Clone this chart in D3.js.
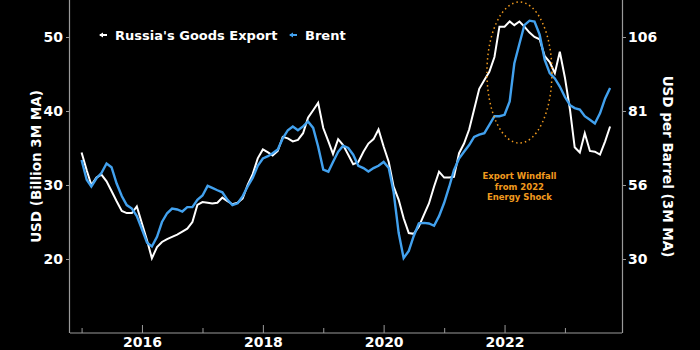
<!DOCTYPE html>
<html>
<head>
<meta charset="utf-8">
<script src="https://cdn.jsdelivr.net/npm/d3@7"></script>
<style>
  html, body { margin: 0; padding: 0; background: #000; }
  svg { display: block; }
</style>
</head>
<body>
<div id="chart"></div>
<script>
// ---- data (monthly, Jan 2015 .. Oct 2023, 3M moving averages) ----
const startYear = 2015;
const russiaExport = [ // USD billion
  34.4, 32.0, 30.0, 31.0, 31.4, 30.5, 29.2, 27.8, 26.5, 26.2, 26.2, 27.1,
  24.8, 22.5, 20.1, 21.6, 22.3, 22.7, 23.0, 23.3, 23.7, 24.1, 25.0, 27.3,
  27.7, 27.6, 27.5, 27.6, 28.3, 27.8, 27.4, 27.6, 28.2, 30.0, 31.5, 33.6,
  34.8, 34.4, 34.0, 34.6, 36.5, 36.3, 35.9, 36.1, 37.0, 39.1, 40.1, 41.1,
  37.7, 35.9, 34.2, 36.2, 35.4, 34.1, 32.8, 33.1, 34.5, 35.6, 36.2, 37.5,
  35.2, 33.1, 29.8, 28.0, 25.5, 23.5, 23.4, 24.4, 26.0, 27.5, 29.8, 31.8,
  31.0, 31.0, 31.1, 34.3, 35.6, 37.5, 40.2, 43.0, 44.2, 45.3, 47.3, 51.4,
  51.4, 52.1, 51.6, 52.1, 51.4, 50.6, 50.0, 49.7, 47.4, 46.6, 45.1, 48.0,
  44.5, 40.1, 35.1, 34.4, 37.0, 34.6, 34.5, 34.1, 35.9, 37.9
];
const brent = [ // USD per barrel
  64.2, 57.4, 55.1, 57.9, 59.7, 63.0, 61.7, 56.1, 51.8, 48.7, 47.5, 44.9,
  40.4, 35.8, 34.5, 37.8, 42.9, 45.9, 47.5, 47.2, 46.5, 48.0, 48.0, 50.5,
  52.0, 55.3, 54.6, 53.8, 53.1, 50.5, 48.7, 49.3, 51.8, 55.1, 58.1, 62.2,
  64.7, 65.5, 66.5, 67.8, 71.6, 74.4, 75.7, 74.4, 75.7, 77.4, 75.2, 68.8,
  60.9, 60.2, 63.5, 67.0, 69.1, 68.3, 66.0, 62.2, 61.4, 60.2, 61.4, 62.2,
  63.5, 61.4, 53.3, 39.1, 30.5, 33.0, 38.1, 42.4, 42.6, 42.4, 41.6, 44.9,
  49.5, 55.1, 60.7, 64.7, 67.0, 69.3, 72.1, 72.9, 73.4, 76.2, 79.2, 79.2,
  79.7, 84.3, 97.3, 104.1, 110.5, 112.0, 111.7, 107.2, 98.5, 94.0, 92.2, 89.4,
  85.8, 83.0, 82.0, 81.5, 79.2, 78.0, 76.7, 80.2, 85.3, 88.9
];
const leftTicks = [20, 30, 40, 50];
const rightTicks = [30.2, 55.6, 81.0, 106.4];   // shown rounded: 30, 56, 81, 106
const yearTicks = [2015, 2016, 2017, 2018, 2019, 2020, 2021, 2022, 2023];
const labeledYears = [2016, 2018, 2020, 2022];
const seriesNames = ["Russia's Goods Export", "Brent"];
const leftTitle = "USD (Billion 3M MA)";
const rightTitle = "USD per Barrel (3M MA)";
const annotationLines = ["Export Windfall", "from 2022", "Energy Shock"];

// ---- layout ----
const W = 700, H = 350;
const m = { left: 70, right: 78, top: 0, bottom: 17 };
const innerR = W - m.right, innerB = H - m.bottom;
const font = "'DejaVu Sans', Verdana, sans-serif";
const white = "#ffffff", blue = "#42a1ee", orange = "#f09a1e", axisCol = "#9a9a9a";

const svg = d3.select("#chart").append("svg").attr("width", W).attr("height", H)
  .style("background", "#000");

const x = d3.scaleTime()
  .domain([new Date(2014, 9, 23), new Date(2023, 11, 12)])
  .range([m.left, innerR]);
const yL = d3.scaleLinear().domain([10, 55]).range([innerB, m.top]);
const yR = d3.scaleLinear().domain([2.54 * 10 - 20.6, 2.54 * 55 - 20.6]).range([innerB, m.top]);

const dates = russiaExport.map((_, i) => new Date(startYear, i, 1));

// axes
const gL = svg.append("g").attr("transform", `translate(${m.left},0)`)
  .call(d3.axisLeft(yL).tickValues(leftTicks).tickSize(4).tickPadding(3).tickFormat(d3.format("d")));
const gR = svg.append("g").attr("transform", `translate(${innerR},0)`)
  .call(d3.axisRight(yR).tickValues(rightTicks).tickSize(4).tickPadding(2).tickFormat(d3.format(".0f")));
const gB = svg.append("g").attr("transform", `translate(0,${innerB})`)
  .call(d3.axisBottom(x).tickValues(yearTicks.map(y => new Date(y, 0, 1)))
    .tickSize(0).tickPadding(3)
    .tickFormat(d => labeledYears.includes(d.getFullYear()) ? d.getFullYear() : ""));

[gL, gR, gB].forEach(g => {
  g.select(".domain").attr("stroke", axisCol).attr("stroke-width", 1.2);
  g.selectAll(".tick line").attr("stroke", axisCol);
  g.selectAll("text").attr("fill", white).style("font-family", font)
    .style("font-weight", "bold").style("font-size", "14px");
});
gL.select(".domain").attr("d", `M-0.5,${innerB}V0`);
gR.select(".domain").attr("d", `M0.5,${innerB}V0`);
gB.select(".domain").attr("d", `M${m.left},0H${innerR}`);
gB.selectAll(".tick line")
  .attr("y2", d => labeledYears.includes(d.getFullYear()) ? -8 : -5);
gB.selectAll("text").attr("dy", "0.82em");

// titles
svg.append("text").attr("transform", `translate(41,${innerB / 2}) rotate(-90)`)
  .attr("text-anchor", "middle").attr("fill", white)
  .style("font-family", font).style("font-weight", "bold").style("font-size", "13.5px")
  .text(leftTitle);
svg.append("text").attr("transform", `translate(663,${innerB / 2}) rotate(90)`)
  .attr("text-anchor", "middle").attr("fill", white)
  .style("font-family", font).style("font-weight", "bold").style("font-size", "13.5px")
  .text(rightTitle);

// lines
const lineL = d3.line().x((d, i) => x(dates[i])).y(d => yL(d));
const lineR = d3.line().x((d, i) => x(dates[i])).y(d => yR(d));
svg.append("path").datum(russiaExport).attr("d", lineL)
  .attr("fill", "none").attr("stroke", white).attr("stroke-width", 2).attr("stroke-linejoin", "miter");
svg.append("path").datum(brent).attr("d", lineR)
  .attr("fill", "none").attr("stroke", blue).attr("stroke-width", 2.4).attr("stroke-linejoin", "miter");

// annotation ellipse + text
const ex = x(new Date(2022, 3, 1)), ey = yL(45.2);
svg.append("ellipse").attr("cx", ex).attr("cy", ey).attr("rx", 32.5).attr("ry", 70.5)
  .attr("fill", "none").attr("stroke", orange).attr("stroke-width", 1.5)
  .attr("stroke-dasharray", "1.5,3");
const at = svg.append("text").attr("text-anchor", "middle").attr("fill", orange)
  .style("font-family", font).style("font-weight", "bold").style("font-size", "8.5px");
annotationLines.forEach((t, i) => {
  at.append("tspan").attr("x", x(new Date(2022, 3, 1))).attr("y", 179 + i * 10.7).text(t);
});

// legend
const leg = svg.append("g").attr("transform", "translate(100,35)");
const legColors = [white, blue];
const legX = [0, 190];
seriesNames.forEach((n, i) => {
  const g = leg.append("g").attr("transform", `translate(${legX[i]},0)`);
  g.append("line").attr("x1", 0).attr("x2", 7).attr("y1", 0).attr("y2", 0)
    .attr("stroke", legColors[i]).attr("stroke-width", 2);
  g.append("path").attr("d", "M-1,0L3,-2.5L3,2.5Z").attr("fill", legColors[i]);
  g.append("text").attr("x", 15).attr("y", 0).attr("dy", "0.35em").attr("fill", white)
    .style("font-family", font).style("font-weight", "bold").style("font-size", "13px")
    .text(n);
});
</script>
</body>
</html>
